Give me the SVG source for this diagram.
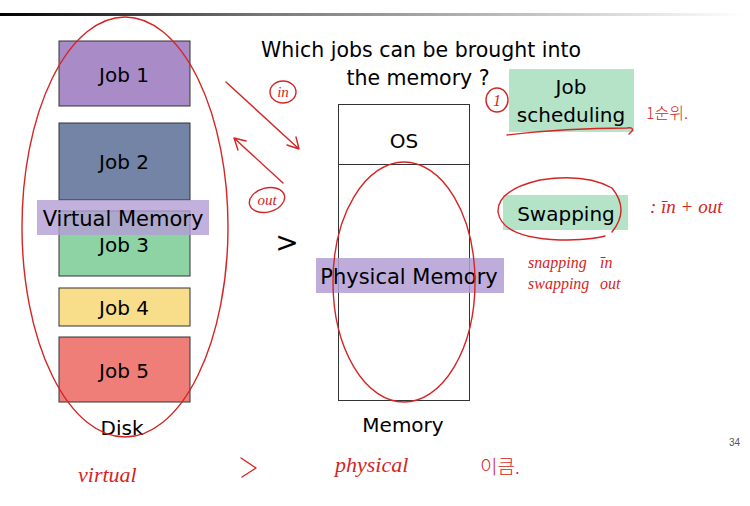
<svg xmlns="http://www.w3.org/2000/svg" width="750" height="506" viewBox="0 0 750 506">
<defs>
<linearGradient id="hdr" x1="0" y1="0" x2="1" y2="0">
<stop offset="0" stop-color="#000"/>
<stop offset="0.35" stop-color="#777"/>
<stop offset="1" stop-color="#fff"/>
</linearGradient>
<style>
.lbl{font-family:"DejaVu Sans","Liberation Sans",sans-serif;font-size:20px;fill:#000;text-anchor:middle}
.box{stroke:#333;stroke-width:1}
.ink{fill:none;stroke:#d42525;stroke-width:1.4;stroke-linecap:round;stroke-linejoin:round}
.hand{font-family:"Liberation Serif","Noto Sans CJK KR",serif;font-style:italic;font-size:17px;fill:#d42525}
.handk{font-family:"Noto Sans CJK KR",sans-serif;font-size:15px;fill:#d42525;font-weight:300}
</style>
</defs>
<rect width="750" height="506" fill="#fff"/>
<rect x="0" y="13" width="745" height="3" fill="url(#hdr)"/>

<g id="title">
<text class="lbl" x="421" y="57" style="font-size:20.5px">Which jobs can be brought into</text>
<text class="lbl" x="418" y="85" style="font-size:20.5px">the memory ?</text>
</g>

<g id="job1"><rect class="box" x="59" y="41" width="131" height="65" fill="#a98bc7"/><text class="lbl" x="124" y="82">Job 1</text></g>
<g id="job2"><rect class="box" x="59" y="123" width="131" height="77" fill="#7384a6"/><text class="lbl" x="124" y="169">Job 2</text></g>
<g id="job3"><rect class="box" x="59" y="211" width="131" height="65" fill="#8dd3a4"/><text class="lbl" x="124" y="252">Job 3</text></g>
<g id="job4"><rect class="box" x="59" y="288" width="131" height="38" fill="#f8de8a"/><text class="lbl" x="124" y="315">Job 4</text></g>
<g id="job5"><rect class="box" x="59" y="337" width="131" height="65" fill="#f07e78"/><text class="lbl" x="124" y="378">Job 5</text></g>
<g id="virtual-memory"><rect x="37" y="200" width="172" height="35" fill="#b39dd4" fill-opacity="0.8"/><text class="lbl" x="123" y="226" style="font-size:21px">Virtual Memory</text></g>
<g id="disk-label"><text class="lbl" x="122" y="435">Disk</text></g>

<g id="memory">
<rect class="box" x="338.5" y="104.5" width="131" height="296" fill="#fff"/>
<line x1="338.5" y1="164.5" x2="469.5" y2="164.5" stroke="#333" stroke-width="1"/>
<text class="lbl" x="404" y="148">OS</text>
<text class="lbl" x="403" y="432">Memory</text>
</g>
<g id="physical-memory"><rect x="316" y="258" width="188" height="35" fill="#b39dd4" fill-opacity="0.85"/><text class="lbl" x="409" y="284" style="font-size:21px">Physical Memory</text></g>
<g id="gt"><text class="lbl" x="287" y="252" style="font-size:28px">&gt;</text></g>

<g id="job-scheduling"><rect x="509" y="69" width="125" height="63" fill="#b5e3c8"/><text class="lbl" x="571" y="94">Job</text><text class="lbl" x="571" y="122">scheduling</text></g>
<g id="swapping"><rect x="503" y="195" width="125" height="35" fill="#b5e3c8"/><text class="lbl" x="566" y="221">Swapping</text></g>

<g id="annotations">
<ellipse class="ink" cx="125" cy="227" rx="103" ry="210"/>
<ellipse class="ink" cx="404" cy="282" rx="71" ry="120"/>
<ellipse class="ink" cx="283" cy="92" rx="13" ry="11"/>
<text class="hand" x="283" y="97" text-anchor="middle" style="font-size:15px">in</text>
<ellipse class="ink" cx="267" cy="200" rx="18" ry="12" transform="rotate(-15 267 200)"/>
<text class="hand" x="267" y="205" text-anchor="middle" style="font-size:15px">out</text>
<ellipse class="ink" cx="497" cy="100" rx="11" ry="12"/>
<text class="hand" x="497" y="106" text-anchor="middle" style="font-size:16px">1</text>
<path class="ink" d="M507 135 Q565 128 627 128 Q634 127 632 131 L629 134"/>
<text class="handk" x="646" y="119" style="font-size:16px">1순위.</text>
<path class="ink" d="M612 232 Q630 210 612 188 Q585 173 540 180 Q497 190 498 212 Q502 238 560 240 Q590 240 605 236"/>
<text class="hand" x="650" y="213" style="font-size:19px">:  īn + out</text>
<text class="hand" x="528" y="268" style="font-size:16px">snapping</text>
<text class="hand" x="600" y="268" style="font-size:16px">īn</text>
<text class="hand" x="528" y="289" style="font-size:16px">swapping</text>
<text class="hand" x="600" y="289" style="font-size:16px">out</text>
<text class="hand" x="78" y="482" style="font-size:22px">virtual</text>
<path class="ink" d="M241 458 L256 468 L242 477"/>
<text class="hand" x="335" y="472" style="font-size:22px">physical</text>
<text class="handk" x="480" y="474" style="font-size:19px">이큼.</text>
</g>

<g id="connectors">
<path class="ink" d="M226 82 L299 149 M287 145 L299 149 L296 137"/>
<path class="ink" d="M283 183 L234 138 M246 141 L234 138 L238 150"/>
</g>

<text x="740" y="446" font-family="Liberation Sans, sans-serif" font-size="10" fill="#555" text-anchor="end">34</text>
</svg>
